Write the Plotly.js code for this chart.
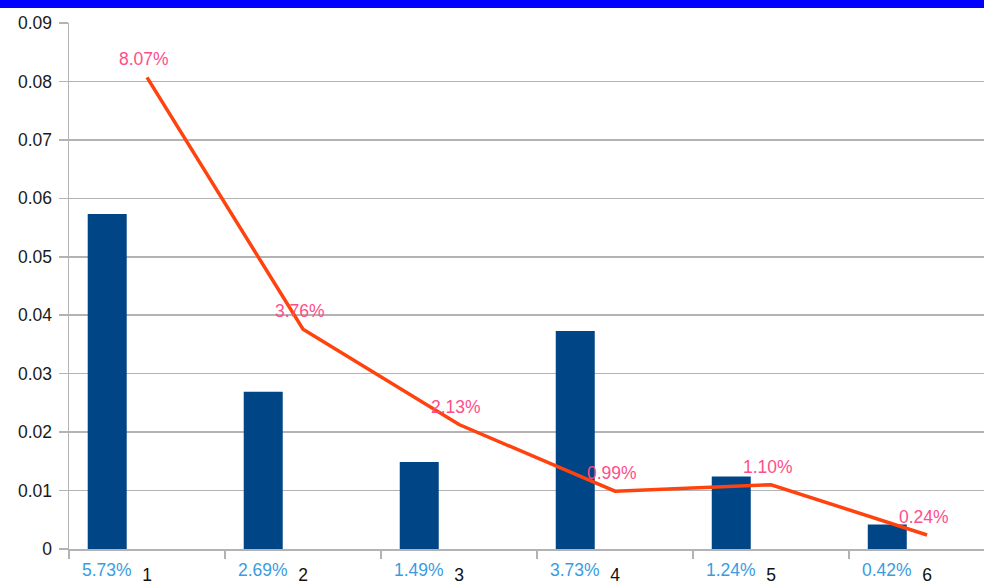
<!DOCTYPE html>
<html>
<head>
<meta charset="utf-8">
<script src="https://cdn.plot.ly/plotly-3.0.1.min.js"></script>
<style>
html,body{margin:0;padding:0;background:#fff;overflow:hidden;}
#band{position:absolute;left:0;top:0;width:984px;height:8px;background:#0000ff;z-index:10;}
#chart{position:absolute;left:0;top:0;width:984px;height:584px;}
</style>
</head>
<body>
<div id="chart"></div>
<div id="band"></div>
<script>
const categories = ["1", "2", "3", "4", "5", "6"];
const barValues = [0.0573, 0.0269, 0.0149, 0.0373, 0.0124, 0.0042];
const barLabels = ["5.73%", "2.69%", "1.49%", "3.73%", "1.24%", "0.42%"];
const lineValues = [0.0807, 0.0376, 0.0213, 0.0099, 0.0110, 0.0024];
const lineLabels = ["8.07%", "3.76%", "2.13%", "0.99%", "1.10%", "0.24%"];
const yTicks = [0, 0.01, 0.02, 0.03, 0.04, 0.05, 0.06, 0.07, 0.08, 0.09];
const yTickText = ["0", "0.01", "0.02", "0.03", "0.04", "0.05", "0.06", "0.07", "0.08", "0.09"];

const font = "Liberation Sans, Arial, sans-serif";
const fs = 17.5;

const bars = {
  type: "bar",
  x: categories,
  y: barValues,
  width: 0.25,
  offset: -0.38,
  marker: {color: "#004586", line: {width: 0}},
  hoverinfo: "skip"
};

const line = {
  type: "scatter",
  mode: "lines",
  x: categories,
  y: lineValues,
  line: {color: "#ff420e", width: 3.5},
  cliponaxis: false,
  hoverinfo: "skip"
};

const barAnn = barLabels.map((t, i) => ({
  x: i - 0.258,
  xref: "x",
  y: 0,
  yref: "y",
  yshift: -21,
  text: t,
  showarrow: false,
  font: {family: font, size: fs, color: "#3a9ce0"}
}));

const lineAnn = lineLabels.map((t, i) => ({
  x: i,
  xref: "x",
  y: lineValues[i],
  yref: "y",
  xshift: -3,
  yshift: 18,
  text: t,
  showarrow: false,
  font: {family: font, size: fs, color: "#ff4d88"}
}));

const layout = {
  width: 984,
  height: 584,
  margin: {l: 69, r: 0, t: 23, b: 35},
  paper_bgcolor: "#ffffff",
  plot_bgcolor: "#ffffff",
  showlegend: false,
  barmode: "overlay",
  xaxis: {
    type: "category",
    range: [-0.5, 5.365],
    tickson: "boundaries",
    ticks: "outside",
    ticklen: 8,
    tickcolor: "#b3b3b3",
    tickwidth: 1.5,
    showgrid: false,
    showline: true,
    linecolor: "#b3b3b3",
    linewidth: 1.5,
    tickfont: {family: font, size: fs, color: "#111111"},
    ticklabelstandoff: 9,
    zeroline: false,
    fixedrange: true
  },
  yaxis: {
    range: [0, 0.09],
    tickvals: yTicks,
    ticktext: yTickText,
    ticks: "outside",
    ticklen: 9,
    tickcolor: "#b3b3b3",
    tickwidth: 1.5,
    showgrid: true,
    gridcolor: "#b3b3b3",
    gridwidth: 1.6,
    showline: true,
    linecolor: "#b3b3b3",
    linewidth: 1.5,
    zeroline: false,
    tickfont: {family: font, size: fs, color: "#1a1a1a"},
    ticklabelstandoff: 3,
    fixedrange: true
  },
  annotations: barAnn.concat(lineAnn)
};

Plotly.newPlot("chart", [bars, line], layout, {displayModeBar: false, staticPlot: true});
</script>
</body>
</html>
